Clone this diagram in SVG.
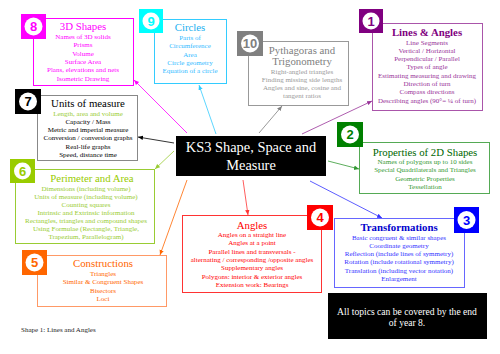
<svg xmlns="http://www.w3.org/2000/svg" width="500" height="354" viewBox="0 0 500 354">
<style>
text{font-family:"Liberation Serif","Times New Roman",serif;text-anchor:middle}
.t{font-size:10.8px}
.i{font-size:7px}
.box{fill:#fff;stroke-width:1}
.num{font-family:"Liberation Sans",Arial,sans-serif;font-weight:bold;font-size:13px}
.c{fill:none;stroke-width:0.8}
</style>
<defs>
<marker id="a8" markerWidth="6" markerHeight="6" refX="5" refY="3" orient="auto" markerUnits="userSpaceOnUse"><path d="M0,0.8 L5,3 L0,5.2z" fill="#ff00ff"/></marker>
<marker id="a9" markerWidth="6" markerHeight="6" refX="5" refY="3" orient="auto" markerUnits="userSpaceOnUse"><path d="M0,0.8 L5,3 L0,5.2z" fill="#33ccff"/></marker>
<marker id="a10" markerWidth="6" markerHeight="6" refX="5" refY="3" orient="auto" markerUnits="userSpaceOnUse"><path d="M0,0.8 L5,3 L0,5.2z" fill="#808080"/></marker>
<marker id="a1" markerWidth="6" markerHeight="6" refX="5" refY="3" orient="auto" markerUnits="userSpaceOnUse"><path d="M0,0.8 L5,3 L0,5.2z" fill="#993399"/></marker>
<marker id="a7" markerWidth="6" markerHeight="6" refX="5" refY="3" orient="auto" markerUnits="userSpaceOnUse"><path d="M0,0.8 L5,3 L0,5.2z" fill="#000"/></marker>
<marker id="a6" markerWidth="6" markerHeight="6" refX="5" refY="3" orient="auto" markerUnits="userSpaceOnUse"><path d="M0,0.8 L5,3 L0,5.2z" fill="#99cc33"/></marker>
<marker id="a5" markerWidth="6" markerHeight="6" refX="5" refY="3" orient="auto" markerUnits="userSpaceOnUse"><path d="M0,0.8 L5,3 L0,5.2z" fill="#ff6600"/></marker>
<marker id="a4" markerWidth="6" markerHeight="6" refX="5" refY="3" orient="auto" markerUnits="userSpaceOnUse"><path d="M0,0.8 L5,3 L0,5.2z" fill="#ff3333"/></marker>
<marker id="a2" markerWidth="6" markerHeight="6" refX="5" refY="3" orient="auto" markerUnits="userSpaceOnUse"><path d="M0,0.8 L5,3 L0,5.2z" fill="#339933"/></marker>
<marker id="a3" markerWidth="6" markerHeight="6" refX="5" refY="3" orient="auto" markerUnits="userSpaceOnUse"><path d="M0,0.8 L5,3 L0,5.2z" fill="#3333ff"/></marker>
</defs>
<rect width="500" height="354" fill="#fff"/>

<g id="connectors">
<line class="c" x1="187" y1="133" x2="134" y2="80" stroke="#ff00ff" marker-end="url(#a8)"/>
<line class="c" x1="216" y1="134" x2="199" y2="85" stroke="#33ccff" marker-end="url(#a9)"/>
<line class="c" x1="259" y1="133" x2="282" y2="106" stroke="#808080" marker-end="url(#a10)"/>
<line class="c" x1="302" y1="134" x2="372" y2="101" stroke="#993399" marker-end="url(#a1)"/>
<line class="c" x1="174" y1="143" x2="138" y2="137" stroke="#000" marker-end="url(#a7)"/>
<line class="c" x1="174" y1="151" x2="155" y2="169" stroke="#99cc33" marker-end="url(#a6)"/>
<line class="c" x1="187" y1="180" x2="160" y2="255" stroke="#ff6600" marker-end="url(#a5)"/>
<line class="c" x1="243" y1="180" x2="248" y2="215" stroke="#ff3333" marker-end="url(#a4)"/>
<line class="c" x1="328" y1="161" x2="359" y2="169" stroke="#339933" marker-end="url(#a2)"/>
<line class="c" x1="310" y1="181" x2="382" y2="218" stroke="#3333ff" marker-end="url(#a3)"/>
</g>

<g id="center">
<rect x="176" y="136" width="150" height="40" fill="#000"/>
<text x="251" y="152" fill="#fff" font-size="14.4">KS3 Shape, Space and</text>
<text x="251" y="170" fill="#fff" font-size="14.4">Measure</text>
</g>

<g id="n8">
<rect class="box" x="33.5" y="18.5" width="100" height="67" stroke="#ff00ff"/>
<rect x="21" y="14" width="25" height="25" fill="#ff00ff"/>
<circle cx="33.5" cy="26.5" r="9" fill="#fff"/>
<text class="num" x="33.5" y="31" fill="#ff00ff">8</text>
<g fill="#ff00ff">
<text class="t" x="83" y="30">3D Shapes</text>
<text class="i" x="83" y="39">Names of 3D solids</text>
<text class="i" x="83" y="47.3">Prisms</text>
<text class="i" x="83" y="55.6">Volume</text>
<text class="i" x="83" y="63.9">Surface Area</text>
<text class="i" x="83" y="72.2">Plans, elevations and nets</text>
<text class="i" x="83" y="80.5">Isometric Drawing</text>
</g>
</g>

<g id="n9">
<rect class="box" x="154.5" y="19.5" width="72" height="64" stroke="#33ccff"/>
<rect x="139" y="9" width="24" height="24" fill="#00ffff"/>
<circle cx="151" cy="21" r="8.5" fill="#fff"/>
<text class="num" x="151" y="25.5" fill="#00ffff">9</text>
<text class="t" x="190" y="31" fill="#1ab0f0">Circles</text>
<g fill="#33bbff">
<text class="i" x="190" y="40">Parts of</text>
<text class="i" x="190" y="48.3">Circumference</text>
<text class="i" x="190" y="56.6">Area</text>
<text class="i" x="190" y="64.9">Circle geometry</text>
<text class="i" x="190" y="73.2">Equation of a circle</text>
</g>
</g>

<g id="n10">
<rect class="box" x="248.5" y="41.5" width="100" height="64" stroke="#999"/>
<rect x="237" y="31" width="26" height="25" fill="#808080"/>
<circle cx="250" cy="43.5" r="9" fill="#fff"/>
<text class="num" x="250" y="47.5" fill="#808080" font-size="11">10</text>
<g fill="#808080">
<text class="t" x="302" y="54">Pythagoras and</text>
<text class="t" x="302" y="65">Trigonometry</text>
</g>
<g fill="#999">
<text class="i" x="302" y="73.5">Right-angled triangles</text>
<text class="i" x="302" y="81.8">Finding missing side lengths</text>
<text class="i" x="302" y="90.1">Angles and sine, cosine and</text>
<text class="i" x="302" y="98.4">tangent ratios</text>
</g>
</g>

<g id="n1">
<rect class="box" x="372.5" y="23.5" width="110" height="87" stroke="#aa55aa"/>
<rect x="359" y="9" width="24" height="24" fill="#800080"/>
<circle cx="371" cy="21" r="8.5" fill="#fff"/>
<text class="num" x="371" y="25.5" fill="#800080">1</text>
<text class="t" x="427" y="36" fill="#800080" font-weight="bold" font-size="10">Lines &amp; Angles</text>
<g fill="#993399">
<text class="i" x="427" y="44.5">Line Segments</text>
<text class="i" x="427" y="52.8">Vertical / Horizontal</text>
<text class="i" x="427" y="61.1">Perpendicular / Parallel</text>
<text class="i" x="427" y="69.4">Types of angle</text>
<text class="i" x="427" y="77.7">Estimating measuring and drawing</text>
<text class="i" x="427" y="86">Direction of turn</text>
<text class="i" x="427" y="94.3">Compass directions</text>
<text class="i" x="427" y="102.6">Describing angles (90°= ¼ of turn)</text>
</g>
</g>

<g id="n7">
<rect class="box" x="37.5" y="95.5" width="100" height="65" stroke="#888"/>
<rect x="15" y="89" width="26" height="25" fill="#000"/>
<circle cx="28" cy="101.5" r="9" fill="#fff"/>
<text class="num" x="28" y="106" fill="#000">7</text>
<text class="t" x="88" y="107" fill="#000">Units of measure</text>
<text class="i" x="88" y="115.5" fill="#99cc33">Length, area and volume</text>
<g fill="#000">
<text class="i" x="88" y="123.8">Capacity / Mass</text>
<text class="i" x="88" y="132.1">Metric and imperial measure</text>
<text class="i" x="88" y="140.4">Conversion / conversion graphs</text>
<text class="i" x="88" y="148.7">Real-life graphs</text>
<text class="i" x="88" y="157">Speed, distance time</text>
</g>
</g>

<g id="n6">
<rect class="box" x="15.5" y="169.5" width="139" height="74" stroke="#99cc33"/>
<rect x="10" y="159" width="25" height="24" fill="#99cc00"/>
<circle cx="22.5" cy="171" r="8.5" fill="#fff"/>
<text class="num" x="22.5" y="175.5" fill="#99cc00">6</text>
<text class="t" x="92" y="181.5" fill="#99cc00">Perimeter and Area</text>
<g fill="#99cc33">
<text class="i" x="86" y="190.5">Dimensions (including volume)</text>
<text class="i" x="86" y="198.5">Units of measure (including volume)</text>
<text class="i" x="86" y="206.5">Counting squares</text>
<text class="i" x="86" y="214.5">Intrinsic and Extrinsic information</text>
<text class="i" x="86" y="222.5">Rectangles, triangles and compound shapes</text>
<text class="i" x="86" y="230.5">Using Formulae (Rectangle, Triangle,</text>
<text class="i" x="86" y="238.5">Trapezium, Parallelogram)</text>
</g>
</g>

<g id="n5">
<rect class="box" x="37.5" y="255.5" width="129" height="51" stroke="#ff9966"/>
<rect x="22" y="250" width="25" height="25" fill="#ff6600"/>
<circle cx="34.5" cy="262.5" r="9" fill="#fff"/>
<text class="num" x="34.5" y="267" fill="#ff6600">5</text>
<g fill="#ff6600">
<text class="t" x="103" y="267">Constructions</text>
<text class="i" x="103" y="276">Triangles</text>
<text class="i" x="103" y="284.3">Similar &amp; Congruent Shapes</text>
<text class="i" x="103" y="292.6">Bisectors</text>
<text class="i" x="103" y="300.9">Loci</text>
</g>
</g>

<g id="n2">
<rect class="box" x="359.5" y="142.5" width="130" height="51" stroke="#55aa55"/>
<rect x="337" y="122" width="26" height="25" fill="#008000"/>
<circle cx="350" cy="134.5" r="9" fill="#fff"/>
<text class="num" x="350" y="139" fill="#008000">2</text>
<text class="t" x="425" y="156" fill="#006600">Properties of 2D Shapes</text>
<g fill="#339933">
<text class="i" x="425" y="164">Names of polygons up to 10 sides</text>
<text class="i" x="425" y="172.3">Special Quadrilaterals and Triangles</text>
<text class="i" x="425" y="180.6">Geometric Properties</text>
<text class="i" x="425" y="188.9">Tessellation</text>
</g>
</g>

<g id="n4">
<rect class="box" x="182.5" y="215.5" width="139" height="77" stroke="#ff3333"/>
<rect x="307" y="205" width="26" height="25" fill="#ff0000"/>
<circle cx="320" cy="217.5" r="9" fill="#fff"/>
<text class="num" x="320" y="222" fill="#ff0000">4</text>
<g fill="#ff0000">
<text class="t" x="252" y="229">Angles</text>
<text class="i" x="252" y="237">Angles on a straight line</text>
<text class="i" x="252" y="245.3">Angles at a point</text>
<text class="i" x="252" y="253.6">Parallel lines and transversals -</text>
<text class="i" x="252" y="261.9">alternating / corresponding /opposite angles</text>
<text class="i" x="252" y="270.2">Supplementary angles</text>
<text class="i" x="252" y="278.5">Polygons: interior &amp; exterior angles</text>
<text class="i" x="252" y="286.8">Extension work: Bearings</text>
</g>
</g>

<g id="n3">
<rect class="box" x="334.5" y="218.5" width="130" height="69" stroke="#6666ff"/>
<rect x="454" y="207" width="25" height="26" fill="#0000ff"/>
<circle cx="466.5" cy="220" r="9" fill="#fff"/>
<text class="num" x="466.5" y="224.5" fill="#0000ff">3</text>
<text class="t" x="399" y="231" fill="#0000cc" font-weight="bold" font-size="10">Transformations</text>
<g fill="#3333ff">
<text class="i" x="399" y="239.5">Basic congruent &amp; similar shapes</text>
<text class="i" x="399" y="247.8">Coordinate geometry</text>
<text class="i" x="399" y="256.1">Reflection (include lines of symmetry)</text>
<text class="i" x="399" y="264.4">Rotation (include rotational symmetry)</text>
<text class="i" x="399" y="272.7">Translation (including vector notation)</text>
<text class="i" x="399" y="281">Enlargement</text>
</g>
</g>

<g id="note">
<rect x="328" y="293" width="159" height="46" fill="#000"/>
<text x="407" y="315" fill="#fff" font-size="9.6">All topics can be covered by the end</text>
<text x="407" y="325.5" fill="#fff" font-size="9.6">of year 8.</text>
</g>

<text x="21" y="331.5" font-size="7" fill="#222" style="text-anchor:start">Shape 1: Lines and Angles</text>
</svg>
